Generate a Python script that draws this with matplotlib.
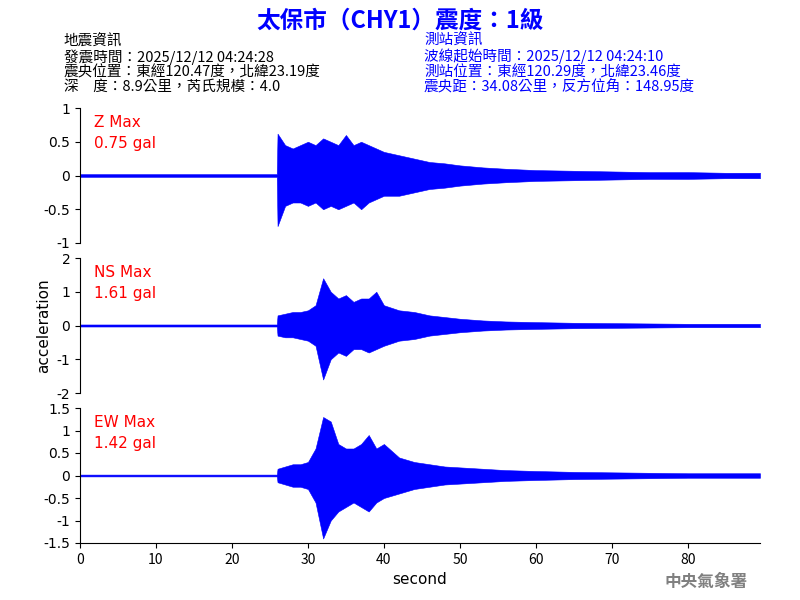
import matplotlib
matplotlib.use('Agg')
import matplotlib.pyplot as plt
import numpy as np

plt.rcParams['font.family'] = ['Noto Sans CJK TC', 'DejaVu Sans']

# envelope of the traces (about 1 s steps)
t = [0, 25, 25.9, 26, 27, 28, 29, 30, 31, 32, 33, 34, 35, 36, 37, 38, 39, 40, 42, 44, 46, 48, 50, 53, 56, 60, 65, 70, 75, 80, 85, 89.5]
z_up = [0.02, 0.02, 0.02, 0.62, 0.45, 0.4, 0.45, 0.5, 0.45, 0.55, 0.5, 0.45, 0.6, 0.45, 0.5, 0.45, 0.4, 0.35, 0.3, 0.25, 0.2, 0.18, 0.15, 0.12, 0.1, 0.08, 0.07, 0.06, 0.05, 0.05, 0.04, 0.04]
z_lo = [-0.02, -0.02, -0.02, -0.75, -0.45, -0.4, -0.4, -0.45, -0.4, -0.5, -0.45, -0.5, -0.45, -0.4, -0.5, -0.4, -0.35, -0.3, -0.3, -0.25, -0.2, -0.18, -0.15, -0.12, -0.1, -0.08, -0.07, -0.06, -0.05, -0.05, -0.04, -0.04]
ns_up = [0.03, 0.03, 0.03, 0.3, 0.35, 0.4, 0.4, 0.45, 0.6, 1.4, 1.0, 0.8, 0.9, 0.7, 0.8, 0.8, 1.0, 0.6, 0.45, 0.4, 0.3, 0.25, 0.2, 0.15, 0.12, 0.1, 0.08, 0.07, 0.06, 0.05, 0.05, 0.05]
ns_lo = [-0.03, -0.03, -0.03, -0.3, -0.35, -0.35, -0.4, -0.45, -0.6, -1.6, -1.0, -0.8, -0.9, -0.7, -0.7, -0.8, -0.7, -0.6, -0.45, -0.4, -0.3, -0.25, -0.2, -0.15, -0.12, -0.1, -0.08, -0.07, -0.06, -0.05, -0.05, -0.05]
ew_up = [0.02, 0.02, 0.02, 0.15, 0.2, 0.25, 0.25, 0.3, 0.6, 1.3, 1.2, 0.7, 0.6, 0.6, 0.7, 0.9, 0.6, 0.7, 0.4, 0.3, 0.25, 0.2, 0.18, 0.15, 0.12, 0.1, 0.08, 0.07, 0.06, 0.05, 0.05, 0.05]
ew_lo = [-0.02, -0.02, -0.02, -0.15, -0.2, -0.25, -0.25, -0.3, -0.6, -1.4, -1.0, -0.8, -0.7, -0.6, -0.7, -0.8, -0.6, -0.5, -0.4, -0.3, -0.25, -0.2, -0.18, -0.15, -0.12, -0.1, -0.08, -0.07, -0.06, -0.05, -0.05, -0.05]

labels = ['Z Max\n0.75 gal', 'NS Max\n1.61 gal', 'EW Max\n1.42 gal']
ylims = [(-1, 1), (-2, 2), (-1.5, 1.5)]
yticks = [[-1, -0.5, 0, 0.5, 1], [-2, -1, 0, 1, 2], [-1.5, -1, -0.5, 0, 0.5, 1, 1.5]]
ytlabels = [['-1', '-0.5', '0', '0.5', '1'], ['-2', '-1', '0', '1', '2'],
            ['-1.5', '-1', '-0.5', '0', '0.5', '1', '1.5']]
tops = [0.82, 0.57, 0.32]

fig = plt.figure(figsize=(8, 6), dpi=100)
axes = []
for i, (up, lo) in enumerate([(z_up, z_lo), (ns_up, ns_lo), (ew_up, ew_lo)]):
    ax = fig.add_axes([0.1, tops[i] - 0.225, 0.85, 0.225])
    ax.fill_between(t, lo, up, color='blue', linewidth=0.4, edgecolor='blue')
    ax.set_xlim(0, 89.5)
    ax.set_ylim(*ylims[i])
    ax.set_yticks(yticks[i])
    ax.set_yticklabels(ytlabels[i], fontsize=10, family='DejaVu Sans')
    for s in ['top', 'right']:
        ax.spines[s].set_visible(False)
    if i < 2:
        ax.spines['bottom'].set_visible(False)
        ax.set_xticks([])
    else:
        ax.set_xticks(range(0, 90, 10))
        ax.tick_params(axis='x', labelsize=10)
        ax.set_xlabel('second', fontsize=11, family='DejaVu Sans')
    ax.text(0.02, 0.95, labels[i], transform=ax.transAxes, color='red', fontsize=11,
            va='top', family='DejaVu Sans', linespacing=1.5)
    axes.append(ax)
axes[1].set_ylabel('acceleration', fontsize=11, family='DejaVu Sans')

fig.text(0.5, 0.965, '太保市（CHY1）震度：1級', ha='center', va='center', color='blue',
         fontsize=17, fontweight='bold')
left = '地震資訊\n發震時間：2025/12/12 04:24:28\n震央位置：東經120.47度，北緯23.19度\n深　度：8.9公里，芮氏規模：4.0'
right = '測站資訊\n波線起始時間：2025/12/12 04:24:10\n測站位置：東經120.29度，北緯23.46度\n震央距：34.08公里，反方位角：148.95度'
fig.text(0.08, 0.943, left, ha='left', va='top', fontsize=10.5, linespacing=1.05, fontweight='medium')
fig.text(0.53, 0.943, right, ha='left', va='top', fontsize=10.5, linespacing=1.05,
         color='blue', fontweight='medium')
fig.text(0.935, 0.03, '中央氣象署', ha='right', va='center', color='gray', fontsize=12, fontweight='bold')

fig.savefig('out.png', dpi=100)
